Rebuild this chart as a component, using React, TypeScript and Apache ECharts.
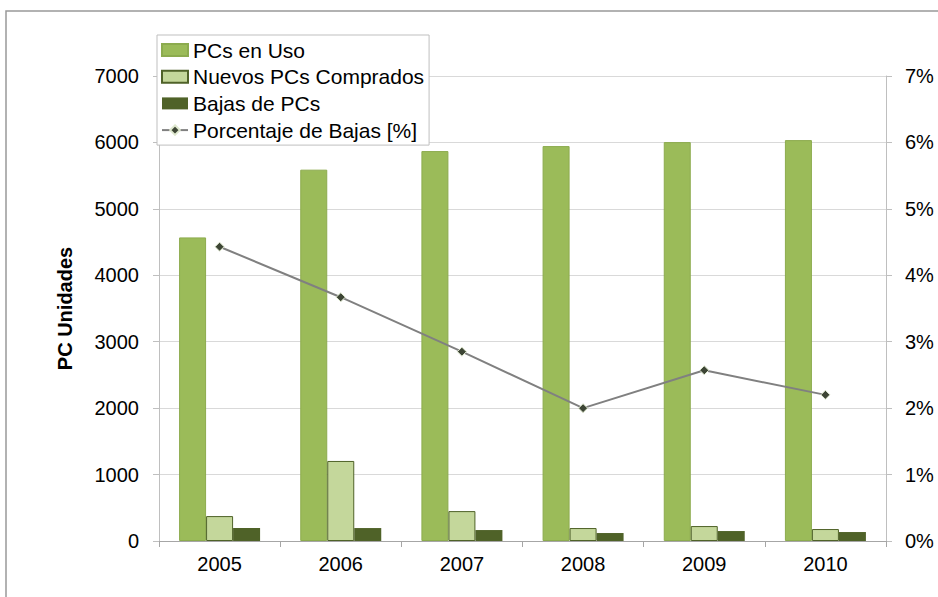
import React, { useEffect, useRef } from "react";
import * as echarts from "echarts";

const years = ["2005", "2006", "2007", "2008", "2009", "2010"];
const pcsEnUso = [4570, 5590, 5870, 5945, 6005, 6035];
const nuevosPCs = [375, 1205, 450, 195, 225, 180];
const bajasPCs = [195, 195, 165, 120, 150, 135];
const porcentajeBajas = [4.43, 3.67, 2.85, 2.0, 2.57, 2.2];

export default function App() {
  const ref = useRef<HTMLDivElement>(null);
  useEffect(() => {
    if (!ref.current) return;
    const chart = echarts.init(ref.current, null, { renderer: "svg" });
    const axisFont = { fontFamily: "Liberation Sans", fontSize: 20, color: "#000" };
    chart.setOption({
      animation: false,
      backgroundColor: "#fff",
      graphic: [
        {
          type: "rect",
          shape: { x: 6, y: 11, width: 1000, height: 1000 },
          style: { fill: "none", stroke: "#999", lineWidth: 1.5 },
          z: -10,
        },
      ],
      grid: { left: 159, right: 52, top: 76, bottom: 56, containLabel: false },
      legend: {
        orient: "vertical",
        left: 157,
        top: 35,
        padding: [2, 5, 2, 4],
        itemWidth: 26,
        itemHeight: 12,
        itemGap: 0.7,
        itemTextGap: 3,
        backgroundColor: "#fff",
        borderColor: "#bfbfbf",
        borderWidth: 1,
        textStyle: { fontFamily: "Liberation Sans", fontSize: 21, lineHeight: 26, color: "#000" },
        data: [
          { name: "PCs en Uso", icon: "rect" },
          { name: "Nuevos PCs Comprados", icon: "rect" },
          { name: "Bajas de PCs", icon: "rect" },
          { name: "Porcentaje de Bajas [%]" },
        ],
      },
      xAxis: {
        type: "category",
        data: years,
        boundaryGap: true,
        axisLine: { lineStyle: { color: "#a6a6a6", width: 1 } },
        axisTick: { show: true, length: 6, lineStyle: { color: "#a6a6a6" } },
        axisLabel: { ...axisFont, margin: 13 },
      },
      yAxis: [
        {
          type: "value",
          min: 0,
          max: 7000,
          interval: 1000,
          name: "PC Unidades",
          nameLocation: "middle",
          nameGap: 84,
          nameTextStyle: { fontFamily: "Liberation Sans", fontSize: 20, fontWeight: "bold", color: "#000" },
          axisLine: { show: true, lineStyle: { color: "#bfbfbf" } },
          axisTick: { show: true, length: 6, lineStyle: { color: "#bfbfbf" } },
          axisLabel: { ...axisFont, margin: 20, formatter: (v: number) => String(v) },
          splitLine: { show: true, lineStyle: { color: "#d9d9d9", width: 1 } },
        },
        {
          type: "value",
          min: 0,
          max: 7,
          interval: 1,
          position: "right",
          axisLine: { show: true, lineStyle: { color: "#bfbfbf" } },
          axisTick: { show: true, length: 6, lineStyle: { color: "#bfbfbf" } },
          axisLabel: { ...axisFont, margin: 19, formatter: "{value}%" },
          splitLine: { show: false },
        },
      ],
      series: [
        {
          name: "PCs en Uso",
          type: "bar",
          data: pcsEnUso,
          barWidth: 27,
          barGap: "0%",
          itemStyle: { color: "#9BBB59", borderColor: "#8CAB4E", borderWidth: 1 },
        },
        {
          name: "Nuevos PCs Comprados",
          type: "bar",
          data: nuevosPCs,
          barWidth: 27,
          barGap: "0%",
          itemStyle: { color: "#C4D79B", borderColor: "#4F6228", borderWidth: 1 },
        },
        {
          name: "Bajas de PCs",
          type: "bar",
          data: bajasPCs,
          barWidth: 27,
          barGap: "0%",
          itemStyle: { color: "#4F6228" },
        },
        {
          name: "Porcentaje de Bajas [%]",
          type: "line",
          yAxisIndex: 1,
          data: porcentajeBajas,
          symbol: "diamond",
          symbolSize: 9,
          lineStyle: { color: "#808080", width: 2 },
          itemStyle: { color: "#3D4535", borderColor: "#dfe8cf", borderWidth: 1 },
          z: 5,
        },
      ],
    });
    return () => chart.dispose();
  }, []);
  return (
    <div
      ref={ref}
      style={{ position: "fixed", left: 0, top: 0, width: 938, height: 597 }}
    />
  );
}
